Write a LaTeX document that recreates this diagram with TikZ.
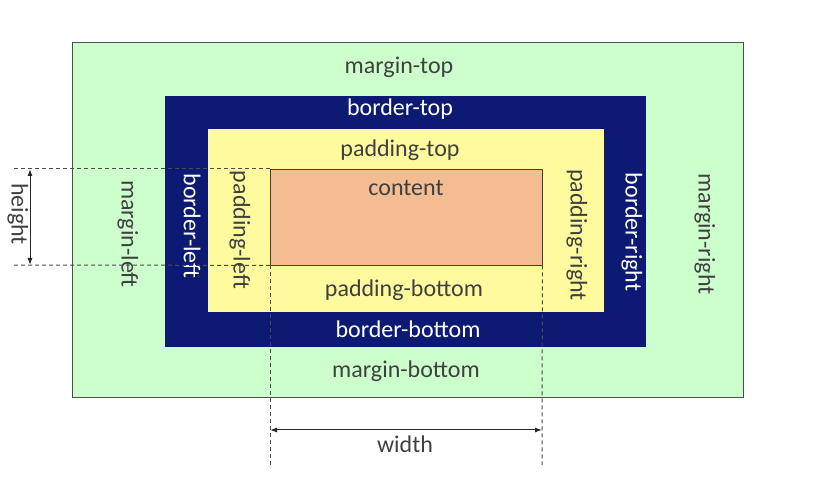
\documentclass[tikz,border=0pt]{standalone}
\usepackage{fontspec}
\setmainfont{Carlito}
\usetikzlibrary{arrows.meta}

\definecolor{marginfill}{HTML}{CCFFCC}
\definecolor{borderfill}{HTML}{0C1A74}
\definecolor{paddingfill}{HTML}{FFFA9E}
\definecolor{contentfill}{HTML}{F4BC92}
\definecolor{labelgray}{HTML}{404040}

\begin{document}
\begin{tikzpicture}[x=1pt,y=-1pt,
    lbl/.style={text=labelgray,font=\fontsize{24}{28}\selectfont,inner sep=0pt},
    side/.style={lbl,rotate=-90},
    dim/.style={dash pattern=on 4pt off 3pt,black!70,line width=1pt},
    measure/.style={{Latex[length=7pt,width=5pt]}-{Latex[length=7pt,width=5pt]},black!85,line width=1pt}]
    \useasboundingbox (0,0) rectangle (820,478);

    % the nested boxes
    \draw[gray!60!black,fill=marginfill] (72,42) rectangle (743,397);
    \fill[borderfill] (165,96) rectangle (646,347);
    \fill[paddingfill] (208,129) rectangle (604,312);
    \node (content) at (270,169) [anchor=north west,draw=black!75,fill=contentfill,
        minimum width=272pt,minimum height=96pt,inner sep=0pt]{};

    \node (mtop) at (399,67) [lbl]{margin-top};
    \node (btop) at (400,109) [lbl,text=white]{border-top};
    \node (ptop) at (400,150) [lbl]{padding-top};
    \node (ctext) at (406,188) [lbl]{content};
    \node (pbot) at (404,290) [lbl]{padding-bottom};
    \node (bbot) at (408,329) [lbl,text=white]{border-bottom};
    \node (mbot) at (406,371) [lbl]{margin-bottom};

    \node (mleft) at (128,234) [side]{margin-left};
    \node (bleft) at (192,226) [side,text=white]{border-left};
    \node (pleft) at (240,230) [side]{padding-left};
    \node (pright) at (577,235) [side]{padding-right};
    \node (bright) at (632,232) [side,text=white]{border-right};
    \node (mright) at (705,234) [side]{margin-right};

    % dimension lines
    \coordinate (topend) at (12,169);
    \coordinate (botend) at (12,265);
    \coordinate (leftfoot) at (270,467);
    \coordinate (rightfoot) at (542,465);
    \draw[dim] (content.north west) -- (topend);
    \draw[dim] (content.south west) -- (botend);
    \draw[dim] (content.south west) -- (leftfoot);
    \draw[dim] (content.south east) -- (rightfoot);

    \coordinate (htop) at (30,169);
    \coordinate (hbot) at (30,265);
    \draw[measure] (htop) -- (hbot);
    \node (hlabel) at (18,214) [side]{height};

    \coordinate (wleft) at (270,430);
    \coordinate (wright) at (542,430);
    \draw[measure] (wleft) -- (wright);
    \node (wlabel) at (405,444) [lbl]{width};
\end{tikzpicture}
\end{document}
